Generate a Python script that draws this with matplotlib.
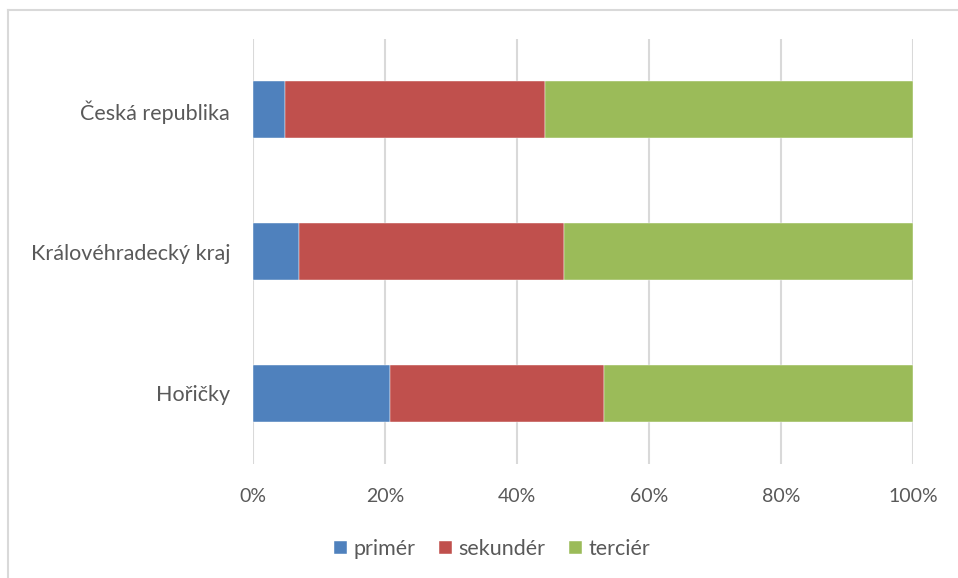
import numpy as np
import matplotlib.pyplot as plt
from matplotlib.lines import Line2D

plt.rcParams['font.family'] = ['Lato', 'DejaVu Sans']

# categories from bottom to top
regiony = ['Hořičky', 'Královéhradecký kraj', 'Česká republika']
primer = [20.8, 7.0, 4.85]
sekunder = [32.4, 40.1, 39.35]
tercier = [46.8, 52.9, 55.8]
serie_nazvy = ['primér', 'sekundér', 'terciér']
barvy = ['#4F81BD', '#C0504D', '#9BBB59']
xticks = [0, 20, 40, 60, 80, 100]

text_col = '#595959'


def main():
    fig = plt.figure(figsize=(9.58, 5.78), dpi=100)
    ax = fig.add_axes([253 / 958, 1 - 464 / 578, 660 / 958, 425 / 578])

    y = np.arange(len(regiony))
    left = np.zeros(len(regiony))
    for vals, name, col in zip([primer, sekunder, tercier], serie_nazvy, barvy):
        vals = np.array(vals)
        ax.barh(y, vals, left=left, height=0.4, color=col, label=name,
                edgecolor='white', linewidth=0.3)
        left += vals

    ax.set_xlim(0, 100)
    ax.set_ylim(-0.5, len(regiony) - 0.5)
    ax.set_xticks(xticks)
    ax.set_xticklabels(['%d%%' % t for t in xticks])
    ax.set_yticks(y)
    ax.set_yticklabels(regiony)
    ax.tick_params(axis='both', length=0, labelcolor=text_col)
    ax.tick_params(axis='y', pad=16.5, labelsize=15.5)
    ax.tick_params(axis='x', pad=17, labelsize=14)
    ax.grid(axis='x', color='#D9D9D9', linewidth=1.5)
    ax.set_axisbelow(True)
    for s in ax.spines.values():
        s.set_visible(False)

    leg = fig.legend(loc='center', bbox_to_anchor=(0.514, 1 - 549 / 578), ncol=3,
                     frameon=False, fontsize=15.5, handlelength=0.6, handleheight=0.6,
                     handletextpad=0.3, columnspacing=1.1)
    for t in leg.get_texts():
        t.set_color(text_col)

    # chart border (top and left visible)
    fig.add_artist(Line2D([8 / 958, 8 / 958], [0, 1 - 10 / 578], transform=fig.transFigure,
                          color='#D9D9D9', linewidth=1.5))
    fig.add_artist(Line2D([8 / 958, 1], [1 - 10 / 578, 1 - 10 / 578], transform=fig.transFigure,
                          color='#D9D9D9', linewidth=1.5))

    fig.savefig('out.png', dpi=100)


if __name__ == '__main__':
    main()
